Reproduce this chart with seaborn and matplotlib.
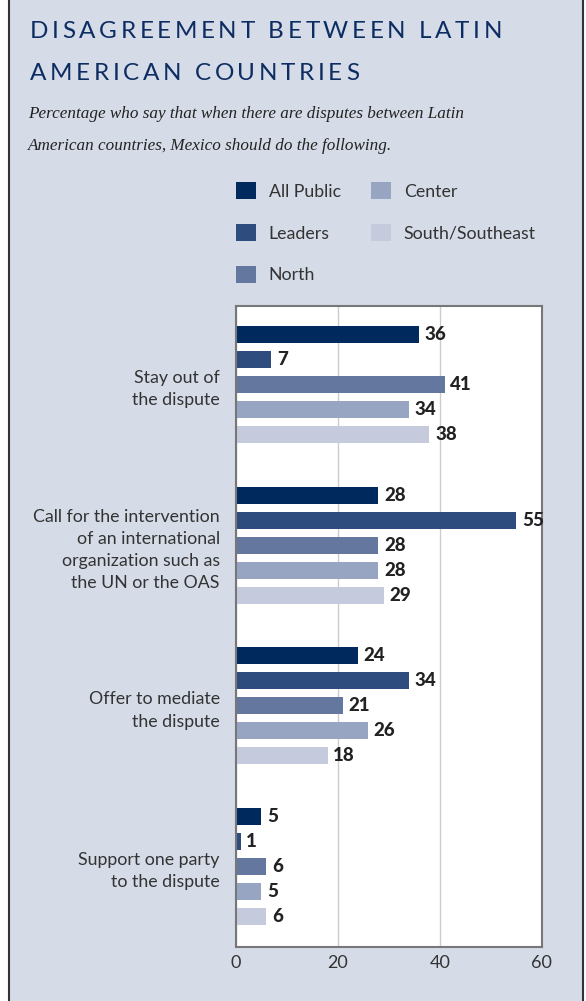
import pandas as pd
import matplotlib.pyplot as plt
import seaborn as sns
from matplotlib.patches import Rectangle

# Dados do grafico
categorias = [
    "Stay out of\nthe dispute",
    "Call for the intervention\nof an international\norganization such as\nthe UN or the OAS",
    "Offer to mediate\nthe dispute",
    "Support one party\nto the dispute",
]
grupos = ["All Public", "Leaders", "North", "Center", "South/Southeast"]
all_public = [36, 28, 24, 5]
leaders = [7, 55, 34, 1]
north = [41, 28, 21, 6]
center = [34, 28, 26, 5]
south = [38, 29, 18, 6]
cores = ["#002a5e", "#2e4d7e", "#64789f", "#97a5c3", "#c5cbdd"]

W, H = 586, 1001
bg = "#d5dbe7"

df = pd.DataFrame({
    "categoria": categorias * 5,
    "grupo": [g for g in grupos for _ in categorias],
    "valor": all_public + leaders + north + center + south,
})

sns.set_style("white")
plt.rcParams["font.family"] = ["Lato", "DejaVu Sans"]

fig = plt.figure(figsize=(W / 100, H / 100), dpi=100)
fig.patch.set_facecolor("white")
fig.patches.append(Rectangle((9 / W, -0.01), 574 / W, 1.02, transform=fig.transFigure,
                             facecolor=bg, edgecolor="#333333", linewidth=1.5, zorder=-1))

ax = fig.add_axes([235.7 / W, 1 - 946.7 / H, 306 / W, (946.7 - 306) / H])
sns.barplot(data=df, y="categoria", x="valor", hue="grupo", orient="h",
            palette=cores, width=0.778, gap=0.32, ax=ax, saturation=1, linewidth=0)

ax.set_facecolor("white")
ax.set_xlim(0, 60)
ax.set_ylim(3.5, -0.49)
ax.set_xticks([0, 20, 40, 60])
ax.set_xlabel("")
ax.set_ylabel("")
ax.grid(axis="x", color="#cccccc", linewidth=1)
ax.set_axisbelow(True)
for s in ax.spines.values():
    s.set_color("#777777")
    s.set_linewidth(1.5)
ax.tick_params(axis="x", length=0, pad=6, labelsize=13, labelcolor="#333333")
ax.tick_params(axis="y", length=0, pad=11.5, labelsize=12.8, labelcolor="#333333")
for t in ax.get_yticklabels():
    t.set_multialignment("right")
    t.set_linespacing(1.48)

# Rotulos nas barras
for c in ax.containers:
    ax.bar_label(c, padding=4, fontweight="black", fontsize=13.5, color="#222222")

handles, labels = ax.get_legend_handles_labels()
ax.get_legend().remove()
fig.legend(handles, labels, ncol=2, loc="upper left",
           bbox_to_anchor=(236 / W, 1 - 182 / H), frameon=False,
           fontsize=12.8, labelcolor="#333333", handlelength=1.12, handleheight=1.12,
           handletextpad=0.72, labelspacing=1.36, columnspacing=1.7,
           borderpad=0, borderaxespad=0)

# Titulo com espacamento entre letras
renderer = fig.canvas.get_renderer()
title_kw = dict(fontsize=17.5, color="#0d2d62", va="baseline")


def largura(s):
    t = fig.text(0, 0, s, **title_kw)
    w = t.get_window_extent(renderer).width
    t.remove()
    return w


linha1 = "DISAGREEMENT BETWEEN LATIN"
linha2 = "AMERICAN COUNTRIES"
tracking = (472 - largura(linha1)) / (len(linha1) - 1)
for linha, yb in [(linha1, 38), (linha2, 80)]:
    for i, ch in enumerate(linha):
        if ch == " ":
            continue
        x = 30 + (largura(linha[:i].replace(" ", "\u00a0")) if i else 0) + i * tracking
        fig.text(x / W, 1 - yb / H, ch, **title_kw)

fig.text(28 / W, 1 - 118 / H, "Percentage who say that when there are disputes between Latin",
         fontsize=12.35, family="Liberation Serif", style="italic", color="#222222", va="baseline")
fig.text(28 / W, 1 - 150 / H, "American countries, Mexico should do the following.",
         fontsize=12.35, family="Liberation Serif", style="italic", color="#222222", va="baseline")

fig.savefig("out.png", dpi=100)
